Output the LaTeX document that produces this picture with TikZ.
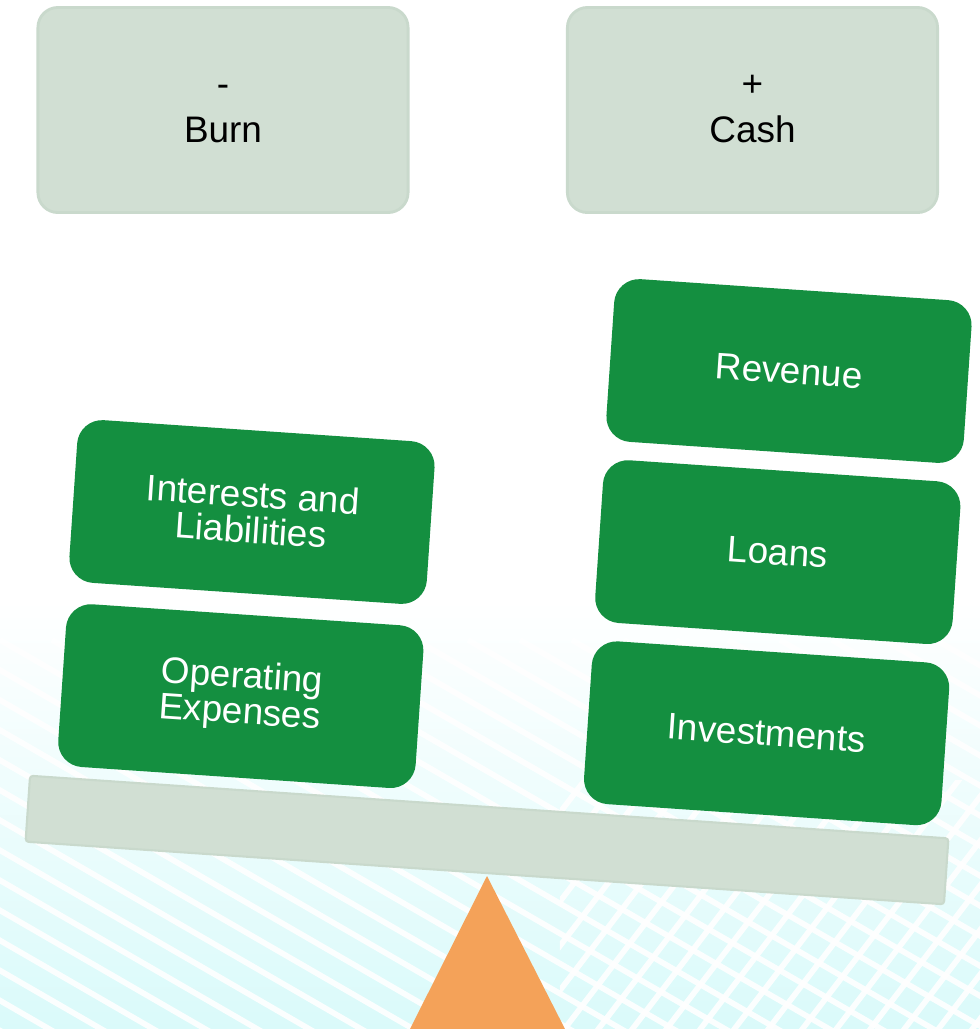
\documentclass[tikz,border=0pt]{standalone}
\usepackage{fontspec}
\setmainfont{Liberation Sans}
\usetikzlibrary{positioning}

\definecolor{boxgreen}{HTML}{148F40}
\definecolor{sage}{HTML}{D1DFD3}
\definecolor{sageline}{HTML}{C9D9CC}
\definecolor{pivot}{HTML}{F4A259}
\definecolor{haze}{HTML}{DAFAFA}

\begin{document}
\begin{tikzpicture}[%
  x=0.01cm, y=-0.01cm,
  side/.style={draw=sageline, fill=sage, line width=0.8pt, rounded corners=0.2cm,
    minimum width=3.7cm, minimum height=2.05cm, align=center,
    font=\fontsize{10.5}{13}\selectfont},
  weight/.style={fill=boxgreen, rounded corners=0.25cm, rotate=-3.9,
    minimum width=3.58cm, minimum height=1.63cm, align=center, text=white,
    font=\fontsize{10.5}{10.2}\selectfont},
  plank/.style={draw=sageline, fill=sage, line width=0.6pt, rounded corners=0.03cm,
    rotate=-3.9, minimum width=9.2cm, minimum height=0.66cm},
  mesh/.style={white, line width=1.6pt, opacity=0.9},
]

  \useasboundingbox (0,0) rectangle (980,1029);

  % pale wash at the bottom with its white mesh
  \shade[top color=white, bottom color=haze] (0,600) rectangle (980,1029);
  \begin{scope}
    \clip (0,600) rectangle (980,1029);
    \foreach \i in {-16,...,20}
      \draw[mesh] (\i*52,640) -- ++(900,520);
  \end{scope}
  \begin{scope}
    \clip (560,780) rectangle (980,1029);
    \foreach \i in {14,...,40}
      \draw[mesh] (\i*34,700) -- ++(-260,340);
  \end{scope}

  % pivot and beam
  \fill[pivot] (487,876) -- (410,1029) -- (565,1029) -- cycle;
  \node[plank] (beam) at (487,840) {};

  % the two sides
  \node[side] (burn) at (223,110) {\strut-\\\strut Burn};
  \node[side] (cash) at (752.5,110) {\strut+\\\strut Cash};

  % weights on the right
  \node[weight] (revenue) at (789,371) {Revenue};
  \node[weight, below=0.17cm of revenue] (loans) {Loans};
  \node[weight, below=0.17cm of loans] (invest) {Investments};

  % weights on the left
  \node[weight] (interest) at (252,512) {Interests and\\Liabilities};
  \node[weight, below=0.2cm of interest] (opex) {Operating\\Expenses};

\end{tikzpicture}
\end{document}
